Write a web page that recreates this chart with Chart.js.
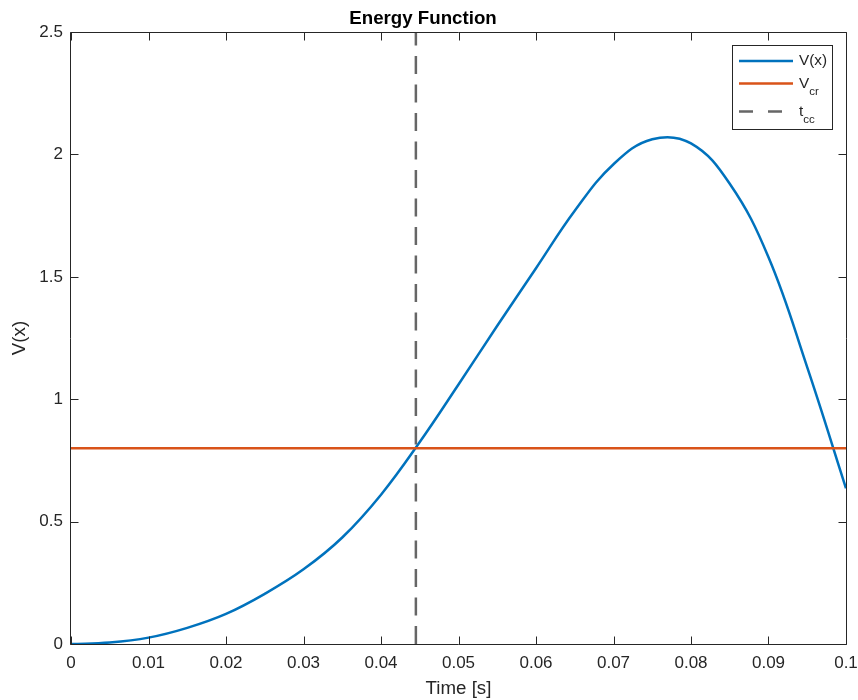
<!DOCTYPE html>
<html>
<head>
<meta charset="utf-8">
<title>Energy Function</title>
<script src="https://cdn.jsdelivr.net/npm/chart.js@4.4.1/dist/chart.umd.min.js"></script>
<style>
	html, body { margin: 0; padding: 0; background: #fff; }
</style>
</head>
<body>
<canvas id="chart" width="858" height="700"></canvas>
<script>
// time samples [s] and V(x)
var timeValues   = [0, 0.005, 0.01, 0.015, 0.02, 0.025, 0.03, 0.035, 0.04, 0.045, 0.05,
                    0.055, 0.06, 0.065, 0.07, 0.075, 0.08, 0.085, 0.09, 0.095, 0.1];
var energyValues = [0, 0.006, 0.026, 0.066, 0.123, 0.205, 0.305, 0.435, 0.61, 0.825, 1.06,
                    1.30, 1.535, 1.77, 1.96, 2.062, 2.045, 1.88, 1.58, 1.13, 0.636];
var criticalEnergy = 0.8;     // V_cr
var clearingTime   = 0.0445;  // t_cc

var xTicks      = [0, 0.01, 0.02, 0.03, 0.04, 0.05, 0.06, 0.07, 0.08, 0.09, 0.1];
var xTickLabels = ['0', '0.01', '0.02', '0.03', '0.04', '0.05', '0.06', '0.07', '0.08', '0.09', '0.1'];
var yTicks      = [0, 0.5, 1, 1.5, 2, 2.5];
var yTickLabels = ['0', '0.5', '1', '1.5', '2', '2.5'];
var seriesLabels = ['V(x)', 'V_cr', 't_cc'];

var FONT = '"Liberation Sans", Arial, Helvetica, sans-serif';
var INK = '#262626';

var xMin = xTicks[0], xMax = xTicks[xTicks.length - 1];
var yMin = yTicks[0], yMax = yTicks[yTicks.length - 1];

var energyPoints = timeValues.map(function(t, i) { return {x: t, y: energyValues[i]}; });

// box round the axes with inward ticks on all four sides
var framePlugin = {
	id: 'frame',
	afterDatasetsDraw: function(chart) {
		var ctx = chart.ctx, a = chart.chartArea;
		var xs = chart.scales.x, ys = chart.scales.y;
		var L = Math.round(a.left) - 0.5, R = Math.round(a.right) + 0.5;
		var T = Math.round(a.top) + 0.5, B = Math.round(a.bottom) + 0.5;
		var len = 8;
		ctx.save();
		ctx.strokeStyle = INK;
		ctx.lineWidth = 1;
		ctx.beginPath();
		ctx.rect(L, T, R - L, B - T);
		xTicks.forEach(function(v) {
			var px = Math.round(xs.getPixelForValue(v)) + 0.5;
			ctx.moveTo(px, B); ctx.lineTo(px, B - len);
			ctx.moveTo(px, T); ctx.lineTo(px, T + len);
		});
		yTicks.forEach(function(v) {
			var py = Math.round(ys.getPixelForValue(v)) + 0.5;
			ctx.moveTo(L, py); ctx.lineTo(L + len, py);
			ctx.moveTo(R, py); ctx.lineTo(R - len, py);
		});
		ctx.stroke();
		ctx.restore();
	}
};

// MATLAB style legend, with subscripts after '_'
var legendPlugin = {
	id: 'matlabLegend',
	afterDraw: function(chart) {
		var ctx = chart.ctx;
		var box = {x: 732.5, y: 45.5, w: 100, h: 84};
		var rows = [61, 83.5, 111.5];
		ctx.save();
		ctx.fillStyle = '#fff';
		ctx.fillRect(box.x, box.y, box.w, box.h);
		ctx.strokeStyle = INK;
		ctx.lineWidth = 1;
		ctx.strokeRect(box.x, box.y, box.w, box.h);
		chart.data.datasets.forEach(function(ds, i) {
			var y = rows[i];
			ctx.strokeStyle = ds.borderColor;
			ctx.lineWidth = ds.borderWidth;
			ctx.setLineDash(ds.borderDash && ds.borderDash.length ? [14, 15] : []);
			ctx.beginPath();
			ctx.moveTo(739, y); ctx.lineTo(793, y);
			ctx.stroke();
			ctx.setLineDash([]);
			var parts = ds.label.split('_');
			ctx.fillStyle = INK;
			ctx.textBaseline = 'middle';
			ctx.textAlign = 'left';
			ctx.font = '15.3px ' + FONT;
			ctx.fillText(parts[0], 799, y);
			if (parts[1]) {
				var w = ctx.measureText(parts[0]).width;
				ctx.font = '11.5px ' + FONT;
				ctx.fillText(parts[1], 799 + w, y + 8);
			}
		});
		ctx.restore();
	}
};

new Chart(document.getElementById('chart').getContext('2d'), {
	type: 'line',
	data: {
		datasets: [{
			label: seriesLabels[0],
			data: energyPoints,
			borderColor: '#0072BD',
			borderWidth: 2.5,
			pointRadius: 0,
			tension: 0.4,
			order: 3
		}, {
			label: seriesLabels[1],
			data: [{x: xMin, y: criticalEnergy}, {x: xMax, y: criticalEnergy}],
			borderColor: '#D95319',
			borderWidth: 2.5,
			pointRadius: 0,
			order: 2
		}, {
			label: seriesLabels[2],
			data: [{x: clearingTime, y: yMin}, {x: clearingTime, y: yMax}],
			borderColor: '#666666',
			borderWidth: 2.5,
			borderDash: [18, 10.5],
			pointRadius: 0,
			order: 1
		}]
	},
	options: {
		responsive: false,
		animation: false,
		devicePixelRatio: 1,
		layout: { padding: { top: 0, left: 0, right: 12, bottom: 0 } },
		plugins: {
			legend: { display: false },
			tooltip: { enabled: false },
			title: {
				display: true,
				text: 'Energy Function',
				color: '#000',
				font: { family: FONT, size: 18.7, weight: 'bold' },
				padding: { top: 8, bottom: 1.6 }
			}
		},
		scales: {
			x: {
				type: 'linear',
				min: xMin, max: xMax,
				afterBuildTicks: function(s) { s.ticks = xTicks.map(function(v) { return {value: v}; }); },
				afterFit: function(s) { s.height = 56; s.paddingLeft = 0; s.paddingRight = 0; },
				grid: { display: false, drawTicks: false },
				border: { display: false },
				ticks: {
					autoSkip: false, maxRotation: 0, padding: 9,
					color: INK, font: { family: FONT, size: 17 },
					callback: function(v, i) { return xTickLabels[i]; }
				},
				title: {
					display: true, text: 'Time [s]', color: INK,
					font: { family: FONT, size: 18.7 },
					padding: { top: 0, bottom: 0 }
				}
			},
			y: {
				type: 'linear',
				min: yMin, max: yMax,
				afterBuildTicks: function(s) { s.ticks = yTicks.map(function(v) { return {value: v}; }); },
				afterFit: function(s) { s.width = 71; s.paddingTop = 0; s.paddingBottom = 0; },
				grid: { display: false, drawTicks: false },
				border: { display: false },
				ticks: {
					autoSkip: false, padding: 8,
					color: INK, font: { family: FONT, size: 17 },
					callback: function(v, i) { return yTickLabels[i]; }
				},
				title: {
					display: true, text: 'V(x)', color: INK,
					font: { family: FONT, size: 18.7 },
					padding: { top: 8.5, bottom: 0 }
				}
			}
		}
	},
	plugins: [framePlugin, legendPlugin]
});
</script>
</body>
</html>
